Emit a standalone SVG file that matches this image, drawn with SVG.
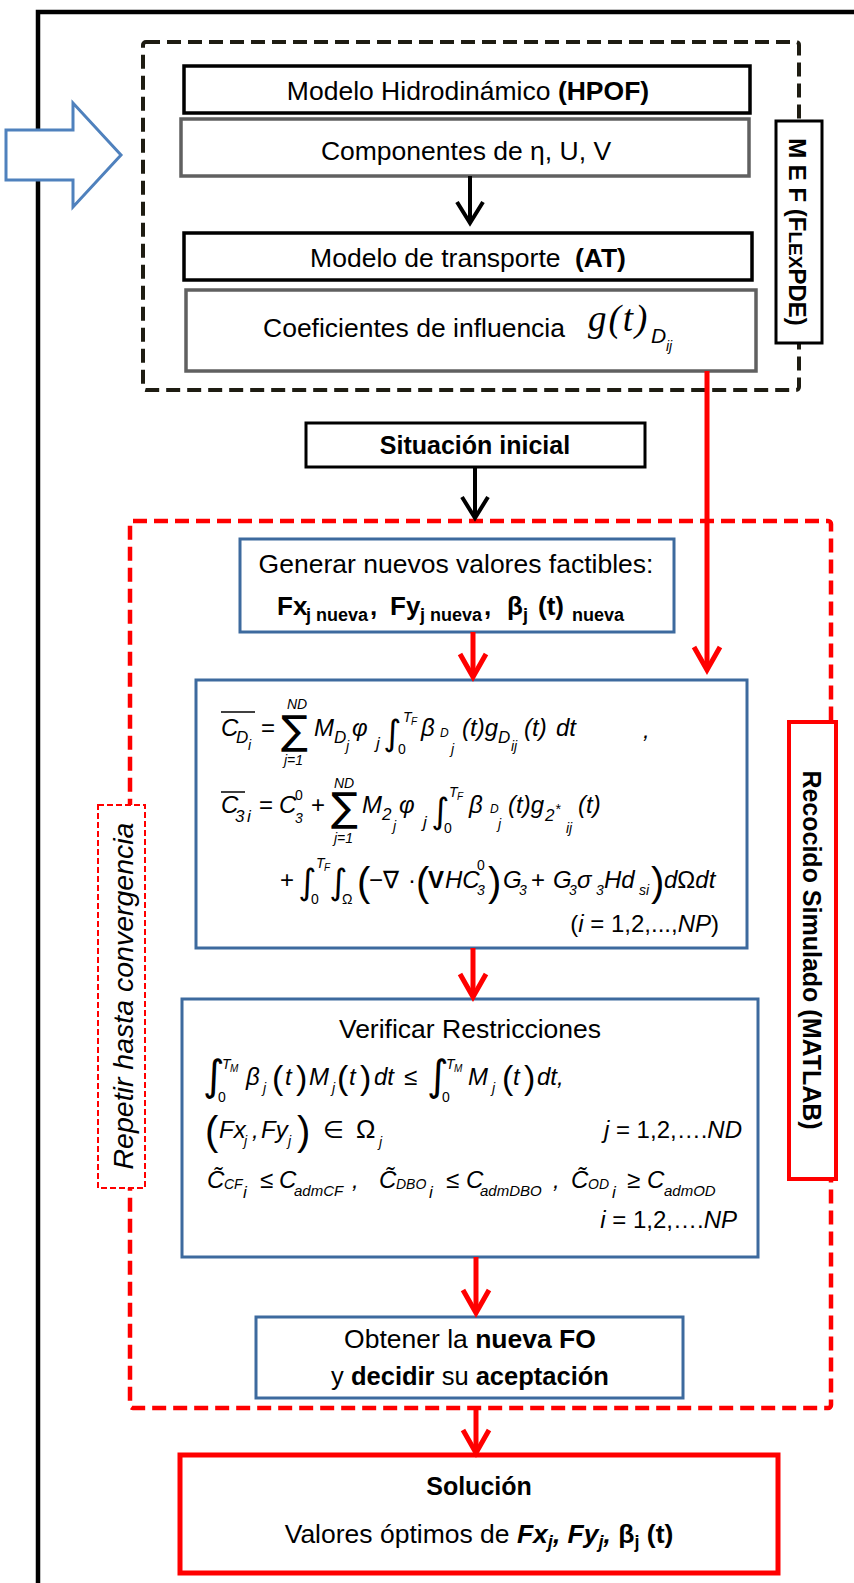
<svg xmlns="http://www.w3.org/2000/svg" width="854" height="1583" viewBox="0 0 854 1583">
<style>
.t{font-family:"Liberation Sans","DejaVu Sans",sans-serif;fill:#000}
.n{font-size:26.5px}
.b{font-weight:bold}
.c{text-anchor:middle}
.e{text-anchor:end}
.m{font-family:"Liberation Sans","DejaVu Sans",sans-serif;font-style:italic;font-size:24px;fill:#000}
.u{font-style:normal}
.s{font-size:17px}
.ss{font-size:14px}
.s9{font-size:10px}
.s11{font-size:12px}
.s14{font-size:15px}
.f21{font-size:21px}
.f26{font-size:26px}
.p40{font-size:40px;font-style:normal}
.big{font-size:40px;font-style:normal}
.par{font-size:34px;font-style:normal}
.sum{font-family:"DejaVu Sans",sans-serif;font-style:normal;font-size:40px}
.int{font-family:"DejaVu Sans",sans-serif;font-style:normal;font-size:35px}
.int2{font-family:"DejaVu Sans",sans-serif;font-style:normal;font-size:42px}
.box{fill:#fff;stroke:#000;stroke-width:3.5}
.grey{fill:#fff;stroke:#606060;stroke-width:3.5}
.blue{fill:#fff;stroke:#3d6a9e;stroke-width:3}
.ov{stroke:#000;stroke-width:1.5}
.cr{stroke:#f00;stroke-width:5;fill:none;marker-end:url(#ahr)}
.cb{stroke:#000;stroke-width:4;fill:none;marker-end:url(#ahb)}
</style>
<defs>
<marker id="ahr" markerUnits="userSpaceOnUse" markerWidth="50" markerHeight="50" viewBox="-30 -25 50 50" refX="0" refY="0" orient="auto" overflow="visible">
<path d="M-18,-13 L5,0 L-18,13" fill="none" stroke="#f00" stroke-width="5"/>
</marker>
<marker id="ahb" markerUnits="userSpaceOnUse" markerWidth="50" markerHeight="50" viewBox="-30 -25 50 50" refX="0" refY="0" orient="auto" overflow="visible">
<path d="M-17,-13 L4,0 L-17,13" fill="none" stroke="#000" stroke-width="4"/>
</marker>
</defs>
<rect width="854" height="1583" fill="#fff"/>

<g id="outer-frame">
<path d="M38,1600 V12 H870" fill="none" stroke="#000" stroke-width="4.5"/>
</g>

<g id="input-arrow">
<polygon points="6,130 73,130 73,103 121,155 73,207 73,180 6,180" fill="#fff" stroke="#4f81bd" stroke-width="3"/>
</g>

<g id="mef-frame">
<rect x="143" y="42" width="656" height="348" rx="3" fill="none" stroke="#1e1c12" stroke-width="4" stroke-dasharray="14 7"/>
</g>

<g id="rs-frame">
<rect x="130" y="521" width="701" height="887" rx="3" fill="none" stroke="#f00" stroke-width="4.5" stroke-dasharray="14 7"/>
</g>

<g id="hpof">
<rect class="box" x="184" y="66" width="566" height="47"/>
<text class="t n c" x="468" y="100">Modelo Hidrodinámico <tspan class="b">(HPOF)</tspan></text>
</g>

<g id="componentes">
<rect class="grey" x="181" y="119" width="568" height="57"/>
<text class="t n c" x="466" y="160">Componentes de η, U, V</text>
</g>

<g id="transporte">
<rect class="box" x="184" y="233" width="568" height="47"/>
<text class="t n c" x="468" y="267">Modelo de transporte <tspan class="b" dx="7">(AT)</tspan></text>
</g>

<g id="coeficientes">
<rect class="grey" x="186" y="290" width="570" height="81"/>
<text class="t n" x="263" y="337">Coeficientes de influencia</text>
<text x="588" y="331" font-family="Liberation Serif, serif" font-style="italic" font-size="37" letter-spacing="2">g(t)</text>
<text class="m f21" x="651" y="343">D</text>
<text class="m ss" x="666" y="351">ij</text>
</g>

<g id="mef-label">
<rect x="776" y="121" width="46" height="222" fill="#fff" stroke="#000" stroke-width="3"/>
<text class="t b c" font-size="24" transform="translate(789,232) rotate(90)">M E F (F<tspan font-size="19">LEX</tspan>PDE)</text>
</g>

<g id="situacion">
<rect x="306" y="423" width="339" height="44" fill="#fff" stroke="#000" stroke-width="3"/>
<text class="t b c" font-size="25" x="475" y="454">Situación inicial</text>
</g>

<g id="generar">
<rect class="blue" x="240" y="539" width="434" height="93"/>
<text class="t n c" x="456" y="573">Generar nuevos valores factibles:</text>
<g class="t b">
<text x="277" y="615" font-size="26">Fx</text>
<text x="306" y="621" font-size="18">j nueva</text>
<text x="370" y="615" font-size="26">,</text>
<text x="390" y="615" font-size="26">Fy</text>
<text x="420" y="621" font-size="18">j nueva</text>
<text x="484" y="615" font-size="26">,</text>
<text x="507" y="615" font-size="26">β</text>
<text x="523" y="621" font-size="18">j</text>
<text x="538" y="615" font-size="26">(t)</text>
<text x="572" y="621" font-size="18">nueva</text>
</g>
</g>

<g id="calculo">
<rect class="blue" x="196" y="680" width="551" height="268" stroke-width="2.5"/>
<line class="ov" x1="221" y1="712" x2="255" y2="712"/>
<text class="m" x="221" y="736">C</text>
<text class="m s" x="236" y="743">D</text>
<text class="m ss" x="248" y="750">i</text>
<text class="m u" x="261" y="736">=</text>
<text class="sum" x="281" y="744">∑</text>
<text class="m ss" x="287" y="709">ND</text>
<text class="m ss" x="284" y="765">j=1</text>
<text class="m" x="314" y="736">M</text>
<text class="m s" x="334" y="743">D</text>
<text class="m ss" x="346" y="751">j</text>
<text class="m" x="352" y="736">φ</text>
<text class="m s" x="376" y="749">j</text>
<text class="int" x="383" y="745">∫</text>
<text class="m ss" x="403" y="722">T</text>
<text class="m s9" x="411" y="725">F</text>
<text class="m u ss" x="398" y="754">0</text>
<text class="m" x="421" y="736">β</text>
<text class="m s11" x="440" y="737">D</text>
<text class="m ss" x="451" y="754">j</text>
<text class="m" x="462" y="736">(t)g</text>
<text class="m s" x="498" y="743">D</text>
<text class="m ss" x="511" y="751">ij</text>
<text class="m" x="524" y="736">(t)</text>
<text class="m" x="556" y="736">dt</text>
<text class="m" x="643" y="738">,</text>

<line class="ov" x1="221" y1="792" x2="245" y2="792"/>
<text class="m" x="221" y="813">C</text>
<text class="m s" x="235" y="822">3</text>
<text class="m s" x="247" y="822">i</text>
<text class="m u" x="259" y="813">=</text>
<text class="m" x="279" y="813">C</text>
<text class="m u ss" x="295" y="800">0</text>
<text class="m ss" x="295" y="823">3</text>
<text class="m u" x="311" y="813">+</text>
<text class="sum" x="331" y="821">∑</text>
<text class="m ss" x="334" y="788">ND</text>
<text class="m ss" x="334" y="843">j=1</text>
<text class="m" x="362" y="813">M</text>
<text class="m s" x="382" y="820">2</text>
<text class="m ss" x="393" y="831">j</text>
<text class="m" x="399" y="813">φ</text>
<text class="m s" x="423" y="828">j</text>
<text class="int" x="431" y="823">∫</text>
<text class="m ss" x="449" y="797">T</text>
<text class="m s9" x="457" y="800">F</text>
<text class="m u ss" x="444" y="833">0</text>
<text class="m" x="469" y="813">β</text>
<text class="m s11" x="490" y="813">D</text>
<text class="m ss" x="498" y="829">j</text>
<text class="m" x="508" y="813">(t)g</text>
<text class="m s" x="545" y="821">2</text>
<text class="m ss" x="555" y="814">*</text>
<text class="m ss" x="566" y="833">ij</text>
<text class="m" x="578" y="813">(t)</text>

<text class="m u" x="280" y="888">+</text>
<text class="int" x="298" y="894">∫</text>
<text class="m ss" x="316" y="868">T</text>
<text class="m s9" x="324" y="871">F</text>
<text class="m u ss" x="311" y="904">0</text>
<text class="int" x="329" y="894">∫</text>
<text class="m u ss" x="342" y="904">Ω</text>
<text class="m big" x="357" y="896">(</text>
<text class="m u" x="369" y="888">−∇</text>
<text class="m u" x="408" y="888">·</text>
<text class="m big" x="416" y="896">(</text>
<text class="m u" x="428" y="888" font-weight="bold">V</text>
<text class="m" x="445" y="888">HC</text>
<text class="m u ss" x="477" y="870">0</text>
<text class="m ss" x="477" y="895">3</text>
<text class="m big" x="488" y="896">)</text>
<text class="m" x="503" y="888">G</text>
<text class="m ss" x="519" y="895">3</text>
<text class="m u" x="531" y="888">+</text>
<text class="m" x="553" y="888">G</text>
<text class="m ss" x="569" y="895">3</text>
<text class="m" x="577" y="888">σ</text>
<text class="m ss" x="596" y="895">3</text>
<text class="m" x="604" y="888">Hd</text>
<text class="m ss" x="639" y="895">si</text>
<text class="m big" x="651" y="896">)</text>
<text class="m" x="664" y="888">d<tspan class="u">Ω</tspan>dt</text>

<text class="m e" x="719" y="932"><tspan class="u">(</tspan>i<tspan class="u"> = 1,2,...,</tspan>NP<tspan class="u">)</tspan></text>
</g>

<g id="verificar">
<rect class="blue" x="182" y="999" width="576" height="258"/>
<text class="t n c" x="470" y="1038">Verificar Restricciones</text>
<text class="int2" x="203" y="1090">∫</text>
<text class="m ss" x="222" y="1069">T</text>
<text class="m s9" x="230" y="1072">M</text>
<text class="m u ss" x="218" y="1102">0</text>
<text class="m" x="246" y="1085">β</text>
<text class="m ss" x="263" y="1093">j</text>
<text class="m par" x="272" y="1089">(</text>
<text class="m" x="285" y="1085">t</text>
<text class="m par" x="296" y="1089">)</text>
<text class="m" x="309" y="1085">M</text>
<text class="m ss" x="332" y="1093">j</text>
<text class="m par" x="337" y="1089">(</text>
<text class="m" x="349" y="1085">t</text>
<text class="m par" x="360" y="1089">)</text>
<text class="m" x="374" y="1085">dt</text>
<text class="m u" x="404" y="1085">≤</text>
<text class="int2" x="427" y="1090">∫</text>
<text class="m ss" x="446" y="1069">T</text>
<text class="m s9" x="454" y="1072">M</text>
<text class="m u ss" x="442" y="1102">0</text>
<text class="m" x="468" y="1085">M</text>
<text class="m ss" x="492" y="1093">j</text>
<text class="m par" x="502" y="1089">(</text>
<text class="m" x="513" y="1085">t</text>
<text class="m par" x="524" y="1089">)</text>
<text class="m" x="537" y="1085">dt,</text>

<text class="m p40" x="205" y="1145">(</text>
<text class="m" x="219" y="1138">Fx</text>
<text class="m ss" x="244" y="1146">j</text>
<text class="m" x="252" y="1138">,</text>
<text class="m" x="261" y="1138">Fy</text>
<text class="m ss" x="288" y="1146">j</text>
<text class="m p40" x="297" y="1145">)</text>
<text class="m u" x="323" y="1138">∈</text>
<text class="m u f26" x="356" y="1138">Ω</text>
<text class="m ss" x="379" y="1147">j</text>
<text class="m e" x="742" y="1138">j<tspan class="u"> = 1,2,….</tspan>ND</text>

<text class="m" x="207" y="1188">C̃</text>
<text class="m ss" x="224" y="1189">CF</text>
<text class="m s" x="243" y="1198">i</text>
<text class="m u" x="260" y="1188">≤</text>
<text class="m" x="279" y="1188">C</text>
<text class="m s14" x="294" y="1196">admCF</text>
<text class="m" x="352" y="1188">,</text>
<text class="m" x="379" y="1188">C̃</text>
<text class="m ss" x="396" y="1189">DBO</text>
<text class="m s" x="429" y="1198">i</text>
<text class="m u" x="446" y="1188">≤</text>
<text class="m" x="466" y="1188">C</text>
<text class="m s14" x="480" y="1196">admDBO</text>
<text class="m" x="553" y="1188">,</text>
<text class="m" x="571" y="1188">C̃</text>
<text class="m ss" x="588" y="1189">OD</text>
<text class="m s" x="612" y="1198">i</text>
<text class="m u" x="627" y="1188">≥</text>
<text class="m" x="647" y="1188">C</text>
<text class="m s14" x="664" y="1196">admOD</text>
<text class="m e" x="737" y="1228">i<tspan class="u"> = 1,2,….</tspan>NP</text>
</g>

<g id="obtener">
<rect class="blue" x="256" y="1317" width="427" height="81"/>
<text class="t n c" x="470" y="1348">Obtener la <tspan class="b">nueva FO</tspan></text>
<text class="t c" font-size="25.5" x="470" y="1385">y <tspan class="b">decidir</tspan> su <tspan class="b">aceptación</tspan></text>
</g>

<g id="solucion">
<rect x="180" y="1455" width="598" height="118" fill="#fff" stroke="#f00" stroke-width="5"/>
<text class="t b c" font-size="25" x="479" y="1495">Solución</text>
<text class="t n c" x="479" y="1543">Valores óptimos de <tspan class="b" font-style="italic">Fx</tspan><tspan class="b" font-style="italic" font-size="18" dy="5">j</tspan><tspan class="b" font-style="italic" dy="-5">, Fy</tspan><tspan class="b" font-style="italic" font-size="18" dy="5">j</tspan><tspan class="b" font-style="italic" dy="-5">, </tspan><tspan class="b">β</tspan><tspan class="b" font-size="18" dy="5">j</tspan><tspan class="b" dy="-5"> (t)</tspan></text>
</g>

<g id="repetir">
<rect x="98" y="805" width="47" height="383" fill="#fff" stroke="#f00" stroke-width="2" stroke-dasharray="6 3"/>
<text class="t c" font-style="italic" font-size="28.5" transform="translate(133,996) rotate(-90)">Repetir hasta convergencia</text>
</g>

<g id="recocido">
<rect x="789" y="722" width="47" height="457" fill="#fff" stroke="#f00" stroke-width="4"/>
<text class="t b c" font-size="25" transform="translate(803,950) rotate(90)">Recocido Simulado (MATLAB)</text>
</g>

<g id="connectors">
<line class="cb" x1="470" y1="176" x2="470" y2="219"/>
<line class="cb" x1="475" y1="467" x2="475" y2="514"/>
<line class="cr" x1="707" y1="371" x2="707" y2="665"/>
<line class="cr" x1="473" y1="632" x2="473" y2="672"/>
<line class="cr" x1="473" y1="948" x2="473" y2="992"/>
<line class="cr" x1="476" y1="1257" x2="476" y2="1308"/>
<line class="cr" x1="476" y1="1410" x2="476" y2="1448"/>
</g>
</svg>
